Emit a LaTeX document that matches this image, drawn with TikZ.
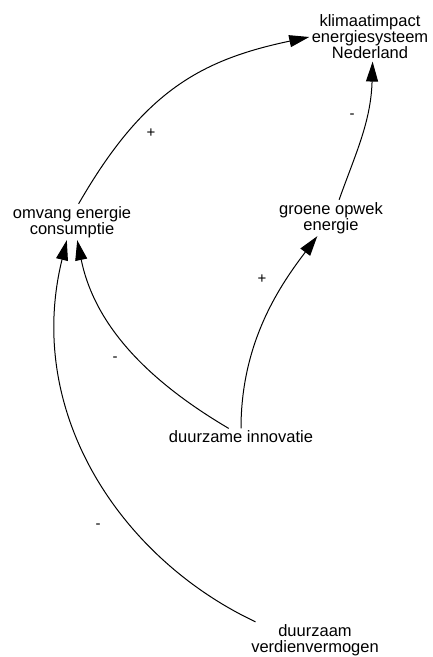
\documentclass[tikz,border=0pt]{standalone}
\usepackage{fontspec}
\setmainfont{Liberation Sans}
\usetikzlibrary{arrows.meta}
\begin{document}
\begin{tikzpicture}[x=1pt,y=-1pt,>={Triangle[length=20pt,width=12pt]},line width=1pt,
  every node/.style={align=center,inner sep=2pt,font=\fontsize{16.5}{16}\selectfont},
  sign/.style={font=\fontsize{15}{15}\selectfont}]
\useasboundingbox (0,0) rectangle (433,657);
\node (K1)at(370,37){klimaatimpact\\energiesysteem\\Nederland};
\node (O1)at(72,222){omvang energie\\consumptie};
\node (G1)at(331,218){groene opwek\\energie};
\node (I1)at(241,437){duurzame innovatie};
\node (V1)at(315,640){duurzaam\\verdienvermogen};
\draw[->](O1.70)..controls(143,92)and(200,60)..(K1.west);
\draw[->](G1.66)..controls(355,155)and(371,122)..(K1.-84);
\draw[->](I1.north)..controls(241,340)and(282,283)..(G1.233);
\draw[->](I1.145)..controls(150,382)and(95,327)..(O1.-74);
\draw[->](V1.163)..controls(122,559)and(24,414)..(O1.-106);
\node[sign] (S1)at(151,133){+};
\node[sign] (S2)at(352,116){-};
\node[sign] (S3)at(262,279){+};
\node[sign] (S4)at(115,359){-};
\node[sign] (S5)at(98,526){-};
\end{tikzpicture}
\end{document}
